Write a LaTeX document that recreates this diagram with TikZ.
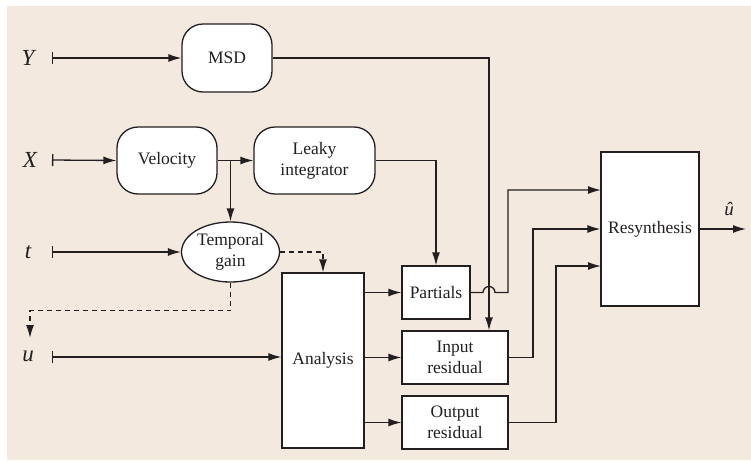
\documentclass[tikz,border=0pt]{standalone}
\usepackage{fontspec}
\setmainfont{Liberation Serif}
\usetikzlibrary{arrows.meta,shapes.geometric}
\definecolor{paper}{RGB}{243,233,223}
\definecolor{ink}{RGB}{35,31,32}
\begin{document}
\begin{tikzpicture}[x=1pt,y=-1pt,
  line width=1.3pt, color=ink,
  boxfont/.style={font=\fontsize{17.5}{21}\selectfont, text=ink, align=center},
  roundbox/.style={boxfont, draw=ink, fill=white, rounded corners=21pt, inner sep=0pt},
  plainbox/.style={boxfont, draw=ink, fill=white, inner sep=0pt},
  ovalbox/.style={boxfont, draw=ink, fill=white, ellipse, inner sep=0pt},
  sig/.style={font=\fontsize{23}{23}\selectfont\itshape, text=ink},
  feed/.style={-{Latex[length=13pt,width=8pt]}},
  src/.style={{Bar[width=12pt]}-{Latex[length=13pt,width=8pt]}},
  ctl/.style={dashed, dash pattern=on 5pt off 4pt, -{Latex[length=13pt,width=8pt]}}
]
\useasboundingbox (0,0) rectangle (751,461);
\fill[paper] (7,6) rectangle (751,460);

% signal processing blocks
\node[roundbox, minimum width=90pt, minimum height=68pt] (msd) at (227,58) {MSD};
\node[roundbox, minimum width=100pt, minimum height=67pt] (vel) at (167,160.5) {Velocity};
\node[roundbox, minimum width=121pt, minimum height=67pt] (leaky) at (314.5,160.5) {Leaky\\integrator};
\node[ovalbox, minimum width=98pt, minimum height=60pt] (gain) at (230.5,252) {Temporal\\gain};
\node[plainbox, minimum width=82pt, minimum height=175pt] (ana) at (323,360.5) {Analysis};
\node[plainbox, minimum width=68pt, minimum height=53pt] (part) at (436,292.5) {Partials};
\node[plainbox, minimum width=106pt, minimum height=53pt] (inres) at (455,357.5) {Input\\residual};
\node[plainbox, minimum width=106pt, minimum height=53pt] (outres) at (455,422.5) {Output\\residual};
\node[plainbox, minimum width=98pt, minimum height=154pt] (res) at (650,229) {Resynthesis};

% input signals
\node[sig] (ylab) at (28,58) {Y};
\node[sig] (xlab) at (30,160) {X};
\node[sig] (tlab) at (28,252) {t};
\node[sig] (ulab) at (28,356) {u};
\coordinate (ys) at (52,58);
\coordinate (xs) at (52,160);
\coordinate (ts) at (52,252);
\coordinate (us) at (52,357);

\draw[src] (ys) -- (msd.west);
\draw[src] (xs) -- (vel.west);
\draw[src] (ts) -- (gain.west);
\draw[src] (us) -- (us -| ana.west);

% velocity branches
\draw[feed] (vel.east) -- (leaky.west);
\draw[feed] (vel.east -| gain.north) -- (gain.north);

% temporal gain control paths
\draw[ctl] (gain.east) -| (ana.north);
\coordinate (dend) at (30,338);
\draw[ctl] (gain.south) -- ++(0,28) -| (dend);

% analysis outputs
\draw[feed] (ana.east |- part.west) -- (part.west);
\draw[feed] (ana.east |- inres.west) -- (inres.west);
\draw[feed] (ana.east |- outres.west) -- (outres.west);

% side-chain inputs
\draw[feed] (leaky.east) -| (part.north);
\coordinate (mturn) at (489,58);
\draw[feed] (msd.east) -- (mturn) -- (mturn |- inres.north);

% resynthesis inputs
\coordinate (p1) at (508,190);
\coordinate (r1) at (601,190);
\coordinate (r3) at (601,266);
\draw[feed] (part.east) -- (483,292.5) arc (180:0:6pt) -- (p1 |- part.east) -- (p1) -- (r1);
\draw[feed] (inres.east) -- (533,357.5) |- (res.west);
\draw[feed] (outres.east) -- (556,422.5) |- (r3);

% output
\coordinate (oend) at (746,229);
\draw[feed] (res.east) -- (oend);
\node[sig, font=\fontsize{19}{19}\selectfont\itshape] (uhat) at (729,209) {û};
\end{tikzpicture}
\end{document}
